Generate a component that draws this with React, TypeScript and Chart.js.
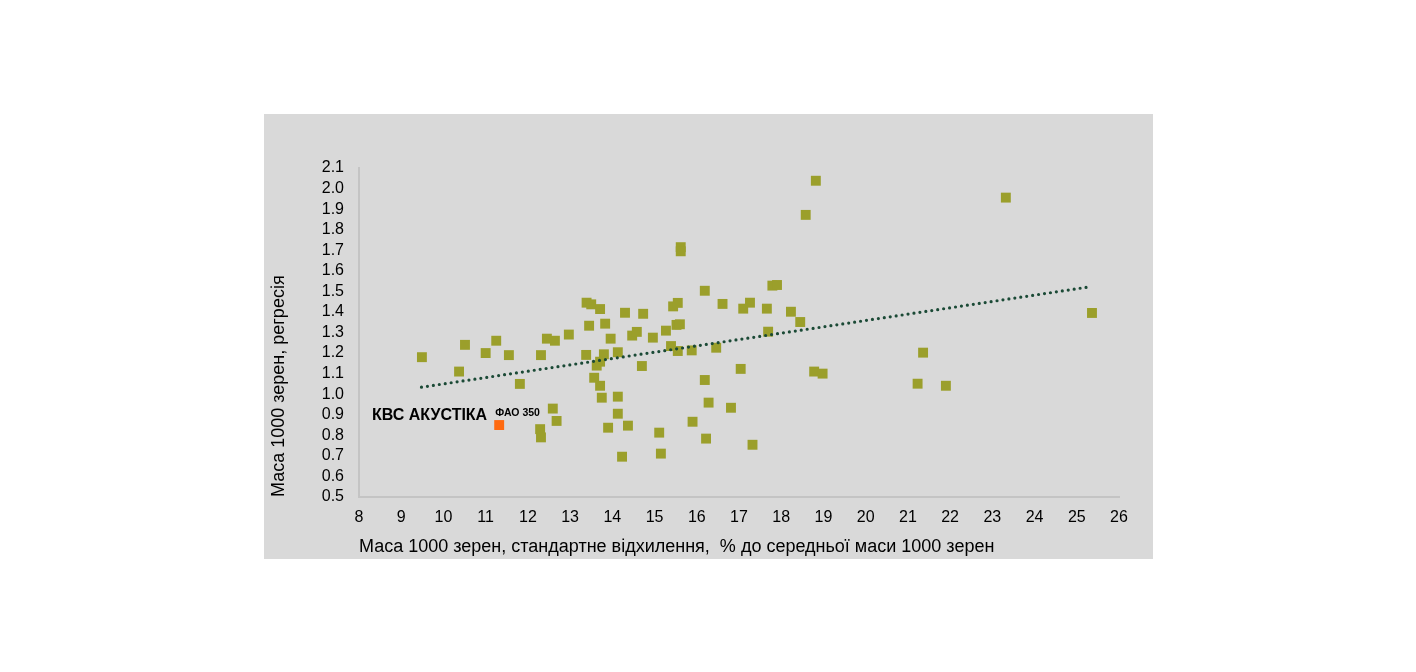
import React, { useEffect, useRef } from "react";
import { Chart, registerables } from "chart.js";

Chart.register(...registerables);

const oliveX: number[] = [
  9.49, 10.37, 10.51, 11.0, 11.25, 11.55, 11.81, 12.31, 12.29, 12.31, 12.45, 12.64, 12.59, 12.68,
  12.97, 13.39, 13.5, 13.71, 13.45, 13.83, 13.38, 13.8, 14.13, 13.96, 14.3, 14.73, 14.47, 14.58,
  14.96, 15.27, 15.44, 15.55, 15.52, 15.6, 15.39, 15.55, 15.88, 16.46, 15.62, 15.62, 16.19, 16.61,
  17.1, 17.26, 17.66, 17.69, 17.79, 17.9, 18.23, 18.45, 18.58, 18.82, 13.63, 13.71, 13.57, 13.71,
  13.75, 14.13, 14.13, 13.9, 14.37, 14.23, 14.7, 15.11, 15.15, 16.19, 16.28, 15.9, 16.22, 16.81,
  17.04, 17.32, 18.78, 18.98, 21.36, 21.23, 21.9, 23.32, 25.36,
];
const oliveY: number[] = [
  1.18, 1.11, 1.24, 1.2, 1.26, 1.19, 1.05, 1.19, 0.83, 0.79, 1.27, 1.26, 0.93, 0.87,
  1.29, 1.445, 1.437, 1.414, 1.333, 1.343, 1.191, 1.194, 1.204, 1.27, 1.396, 1.391, 1.285, 1.303,
  1.275, 1.309, 1.427, 1.444, 1.337, 1.34, 1.234, 1.21, 1.213, 1.226, 1.715, 1.695, 1.503, 1.439,
  1.416, 1.445, 1.416, 1.304, 1.528, 1.531, 1.401, 1.351, 1.872, 2.038, 1.139, 1.158, 1.08, 1.041,
  0.983, 0.988, 0.905, 0.837, 0.847, 0.696, 1.137, 0.813, 0.711, 1.069, 0.959, 0.866, 0.784, 0.934,
  1.123, 0.754, 1.11, 1.1, 1.202, 1.051, 1.041, 1.956, 1.395,
];
const highlightX: number[] = [11.32];
const highlightY: number[] = [0.85];
const highlightName = "КВС АКУСТІКА";
const highlightTag = "ФАО 350";
const trendX: number[] = [9.48, 25.27];
const trendY: number[] = [1.034, 1.521];

const xTitle = "Маса 1000 зерен, стандартне відхилення,  % до середньої маси 1000 зерен";
const yTitle = "Маса 1000 зерен, регресія";

const FONT = "'Liberation Sans', Arial, sans-serif";

const toPts = (xs: number[], ys: number[]) => xs.map((x, i) => ({ x, y: ys[i] }));

const labelPlugin = {
  id: "highlightLabel",
  afterDatasetsDraw(chart: any) {
    const meta = chart.getDatasetMeta(1);
    const pt = meta.data[0];
    if (!pt) return;
    const ctx = chart.ctx;
    ctx.save();
    ctx.fillStyle = "#000";
    ctx.textBaseline = "middle";
    ctx.font = `bold 16px ${FONT}`;
    ctx.textAlign = "right";
    ctx.fillText(highlightName, pt.x - 12, pt.y - 9);
    ctx.font = `bold 10.5px ${FONT}`;
    ctx.textAlign = "left";
    ctx.fillText(highlightTag, pt.x - 4, pt.y - 12);
    ctx.restore();
  },
};

export default function App() {
  const ref = useRef<HTMLCanvasElement | null>(null);
  useEffect(() => {
    if (!ref.current) return;
    const chart = new Chart(ref.current, {
      type: "scatter",
      data: {
        datasets: [
          {
            type: "line",
            data: toPts(trendX, trendY),
            borderColor: "#1b4a36",
            borderWidth: 3.2,
            borderDash: [0, 6],
            borderCapStyle: "round",
            pointRadius: 0,
            fill: false,
            order: 0,
          } as any,
          {
            data: toPts(highlightX, highlightY),
            backgroundColor: "#ff6a10",
            borderWidth: 0,
            pointStyle: "rect",
            pointRadius: 7,
            order: 1,
          },
          {
            data: toPts(oliveX, oliveY),
            backgroundColor: "#9b9f2b",
            borderWidth: 0,
            pointStyle: "rect",
            pointRadius: 7,
            order: 2,
          },
        ],
      },
      options: {
        animation: false,
        responsive: false,
        layout: { padding: { left: 0, right: 34, top: 54, bottom: 0 } },
        plugins: { legend: { display: false }, tooltip: { enabled: false } },
        font: { family: FONT },
        scales: {
          x: {
            type: "linear",
            min: 8,
            max: 26,
            grid: { display: false, drawTicks: false },
            border: { display: true, color: "#c4c4c4", width: 2 },
            ticks: {
              stepSize: 1,
              autoSkip: false,
              padding: 11,
              color: "#000",
              font: { family: FONT, size: 16 },
            },
            title: {
              display: true,
              text: xTitle,
              align: "start",
              color: "#000",
              font: { family: FONT, size: 18 },
              padding: { top: 0, bottom: 1 },
            },
            afterFit: (s: any) => {
              s.height = 62;
            },
          },
          y: {
            type: "linear",
            min: 0.5,
            max: 2.1,
            grid: { display: false, drawTicks: false },
            border: { display: true, color: "#c4c4c4", width: 2 },
            ticks: {
              stepSize: 0.1,
              autoSkip: false,
              padding: 15,
              color: "#000",
              font: { family: FONT, size: 16 },
              callback: (v: any) => Number(v).toFixed(1),
            },
            title: {
              display: true,
              text: yTitle,
              align: "start",
              color: "#000",
              font: { family: FONT, size: 18 },
              padding: { top: 4, bottom: 0 },
            },
            afterFit: (s: any) => {
              s.width = 95;
            },
          },
        },
      } as any,
      plugins: [labelPlugin],
    });
    return () => chart.destroy();
  }, []);

  return (
    <div
      style={{
        position: "absolute",
        left: 264,
        top: 114,
        width: 889,
        height: 445,
        background: "#d9d9d9",
      }}
    >
      <canvas ref={ref} width={889} height={445} style={{ display: "block" }} />
    </div>
  );
}
